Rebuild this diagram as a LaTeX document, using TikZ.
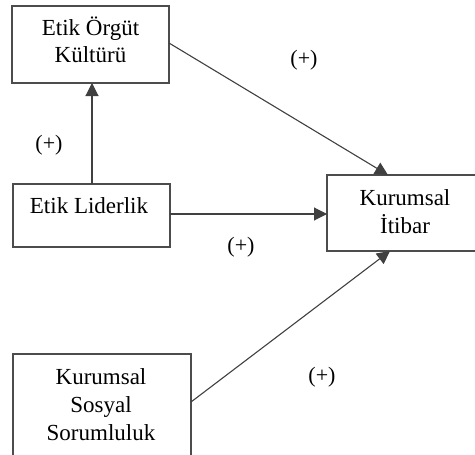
\documentclass[tikz,border=0pt]{standalone}
\usepackage{fontspec}
\setmainfont{Liberation Serif}
\usetikzlibrary{arrows.meta}
\begin{document}
\begin{tikzpicture}[x=1pt,y=-1pt,
  boxframe/.style={draw=black!70,line width=1.1pt},
  lbl/.style={font=\fontsize{23}{28}\selectfont,align=center,inner sep=0pt,anchor=base},
  sign/.style={font=\fontsize{22}{26}\selectfont,inner sep=0pt},
  link/.style={draw=black!75,line width=1.1pt,-{Triangle[length=13pt,width=13pt]}}]
\useasboundingbox (0,0) rectangle (475,455);
\clip (0,0) rectangle (475,455);
% boxes
\draw[boxframe] (12,6) rectangle (169,83);
\draw[boxframe] (13,184) rectangle (170,247);
\draw[boxframe] (327,175) rectangle (482,251);
\draw[boxframe] (13,354) rectangle (191,462);
% box texts (base anchor = baseline of last line)
\node[lbl] (eok) at (90.5,63) {Etik Örgüt\\Kültürü};
\node[lbl] (el) at (89,213) {Etik Liderlik};
\node[lbl] (ki) at (405,233) {Kurumsal\\İtibar};
\node[lbl] (kss) at (101,440) {Kurumsal\\Sosyal\\Sorumluluk};
% connector end points on box borders
\coordinate (eokS) at (92,83);
\coordinate (eokE) at (169,43);
\coordinate (elN) at (92,184);
\coordinate (elE) at (170,214);
\coordinate (kiN) at (388,175);
\coordinate (kiW) at (327,214);
\coordinate (kiS) at (390,251);
\coordinate (kssE) at (191,402);
% connectors
\draw[link] (elN) -- (eokS);
\draw[link] (eokE) -- (kiN);
\draw[link] (elE) -- (kiW);
\draw[link] (kssE) -- (kiS);
% signs
\node[sign] (s1) at (304,60) {(+)};
\node[sign] (s2) at (49,145) {(+)};
\node[sign] (s3) at (241,247) {(+)};
\node[sign] (s4) at (322,377) {(+)};
\end{tikzpicture}
\end{document}
